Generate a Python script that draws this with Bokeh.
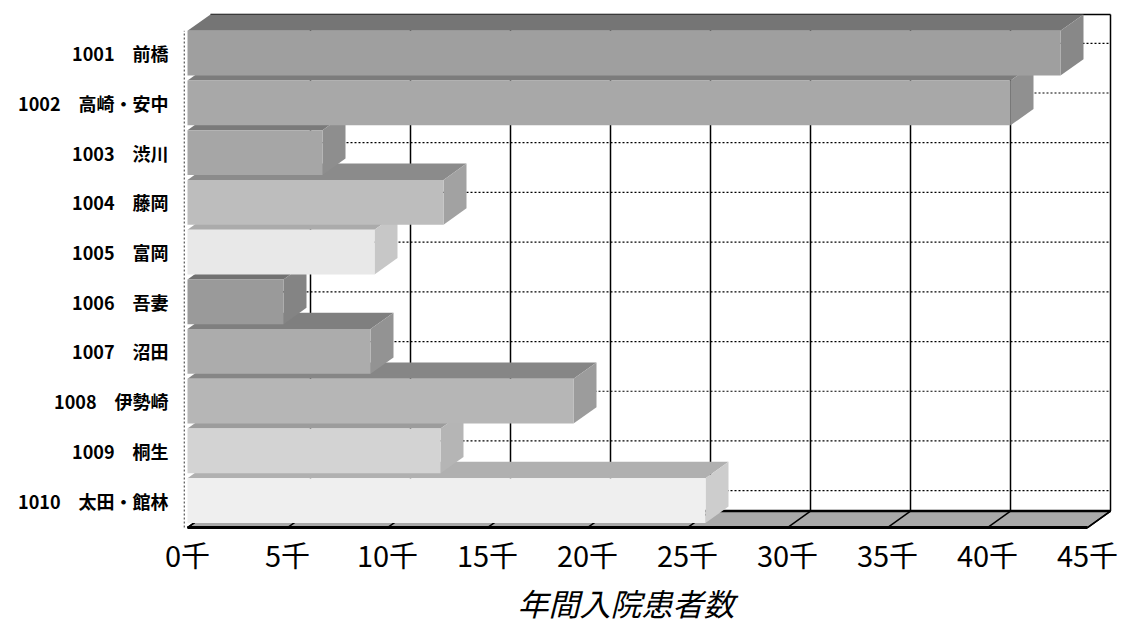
from bokeh.plotting import figure
from bokeh.models import Range1d, FixedTicker, Title
from bokeh.embed import file_html
from bokeh.resources import INLINE

# ---------------- data ----------------
codes = ["1001", "1002", "1003", "1004", "1005", "1006", "1007", "1008", "1009", "1010"]
names = ["前橋", "高崎・安中", "渋川", "藤岡", "富岡", "吾妻", "沼田", "伊勢崎", "桐生", "太田・館林"]
inpatients_k = [43.65, 41.15, 6.75, 12.8, 9.35, 4.8, 9.15, 19.3, 12.65, 25.9]   # 千人
front_gray = ["#9f9f9f", "#a8a8a8", "#a6a6a6", "#bdbdbd", "#e8e8e8",
              "#9a9a9a", "#acacac", "#b6b6b6", "#d3d3d3", "#efefef"]
x_ticks = [0, 5, 10, 15, 20, 25, 30, 35, 40, 45]
x_tick_labels = ["0千", "5千", "10千", "15千", "20千", "25千", "30千", "35千", "40千", "45千"]
x_title = "年間入院患者数"

# ---------------- 3D look parameters ----------------
DX = 1.15      # depth offset along x (data units)
DY = 0.33      # depth offset along y (category units)
H = 0.45       # half height of the front face
FLOOR = -0.541
XMAX = x_ticks[-1]

n = len(codes)
rows = [n - 1 - i for i in range(n)]


def shade(hexcol, f):
    r = int(hexcol[1:3], 16); g = int(hexcol[3:5], 16); b = int(hexcol[5:7], 16)
    return "#%02x%02x%02x" % (int(r * f), int(g * f), int(b * f))


p = figure(width=1123, height=624, x_range=Range1d(-0.2, 46.5), y_range=Range1d(-0.601, 9.96),
           output_backend="svg", toolbar_location=None,
           min_border_left=183, min_border_right=6, min_border_top=5, min_border_bottom=92)
p.outline_line_color = None
p.grid.visible = False
p.background_fill_color = "white"

# floor
p.patch([0, XMAX, XMAX + DX, DX], [FLOOR, FLOOR, FLOOR + DY, FLOOR + DY],
        fill_color="#a9a9a9", line_color="black", line_width=1.5)
p.segment(x0=x_ticks, y0=[FLOOR] * len(x_ticks), x1=[t + DX for t in x_ticks],
          y1=[FLOOR + DY] * len(x_ticks), line_color="black", line_width=1.5)
p.segment(x0=[0], y0=[FLOOR], x1=[XMAX], y1=[FLOOR], line_color="black", line_width=3)
p.segment(x0=[DX], y0=[FLOOR + DY], x1=[XMAX + DX], y1=[FLOOR + DY], line_color="black", line_width=2.5)

# back wall
top_back = rows[0] + H + DY
p.segment(x0=[t + DX for t in x_ticks[1:]], y0=[FLOOR + DY] * (len(x_ticks) - 1),
          x1=[t + DX for t in x_ticks[1:]], y1=[top_back] * (len(x_ticks) - 1),
          line_color="black", line_width=1.5)
p.segment(x0=[DX] * n, y0=[r + 0.2 for r in rows], x1=[XMAX + DX] * n, y1=[r + 0.2 for r in rows],
          line_color="black", line_width=1.2, line_dash="2 2")
p.segment(x0=[DX], y0=[top_back], x1=[XMAX + DX], y1=[top_back], line_color="black", line_width=1.5)

# bars: top faces, side faces, front faces
top_xs, top_ys, side_xs, side_ys, top_c, side_c = [], [], [], [], [], []
for v, r, c in zip(inpatients_k, rows, front_gray):
    top_xs.append([0, v, v + DX, DX])
    top_ys.append([r + H, r + H, r + H + DY, r + H + DY])
    side_xs.append([v, v + DX, v + DX, v])
    side_ys.append([r - H, r - H + DY, r + H + DY, r + H])
    top_c.append(shade(c, 0.74))
    side_c.append(shade(c, 0.86))

p.patches(top_xs, top_ys, fill_color=top_c, line_color=None)
p.patches(side_xs, side_ys, fill_color=side_c, line_color=None)
p.quad(left=[0] * n, right=inpatients_k, bottom=[r - H for r in rows], top=[r + H for r in rows],
       fill_color=front_gray, line_color=None)

# left side edge (dotted)
p.segment(x0=[-0.17], y0=[FLOOR], x1=[-0.17], y1=[rows[0] + H], line_color="black",
          line_width=1, line_dash="2 2")

# axes
p.xaxis.ticker = FixedTicker(ticks=x_ticks)
p.xaxis.major_label_overrides = {t: l for t, l in zip(x_ticks, x_tick_labels)}
p.xaxis.axis_line_color = None
p.xaxis.major_tick_line_color = None
p.xaxis.minor_tick_line_color = None
p.xaxis.major_label_standoff = -4
p.xaxis.major_label_text_font = "Noto Sans CJK JP"
p.xaxis.major_label_text_font_size = "29px"
p.xaxis.major_label_text_color = "black"

p.add_layout(Title(text=x_title, align="left", offset=334, standoff=0,
                   text_font="Noto Sans CJK JP", text_font_size="31px",
                   text_font_style="italic", text_color="black"), "below")

p.yaxis.ticker = FixedTicker(ticks=rows)
p.yaxis.major_label_overrides = {r: f"{c}　{nm}" for r, c, nm in zip(rows, codes, names)}
p.yaxis.axis_line_color = None
p.yaxis.major_tick_line_color = None
p.yaxis.minor_tick_line_color = None
p.yaxis.major_label_standoff = 9
p.yaxis.major_label_text_font = "Noto Sans CJK JP"
p.yaxis.major_label_text_font_size = "18px"
p.yaxis.major_label_text_font_style = "bold"
p.yaxis.major_label_text_color = "black"

open("out.html", "w").write(file_html(p, INLINE))
